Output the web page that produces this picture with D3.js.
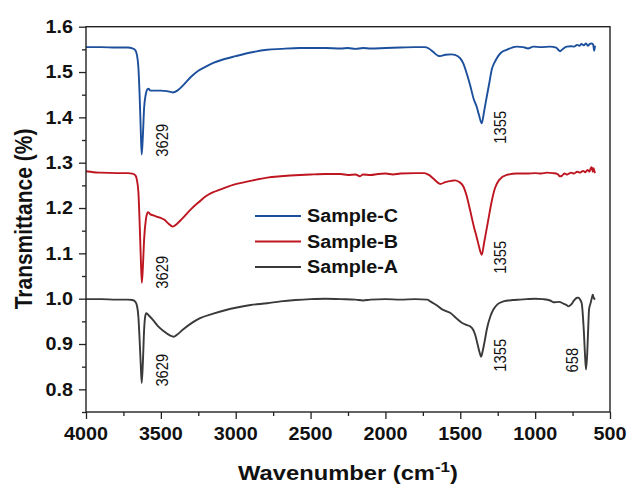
<!DOCTYPE html>
<html><head><meta charset="utf-8">
<script src="https://cdn.jsdelivr.net/npm/d3@7"></script>
<style>body{margin:0;background:#fff}svg{display:block}text{font-family:"Liberation Sans",Arial,sans-serif}</style>
</head><body>
<svg id="c" width="629" height="486"></svg>
<script>
// ---- data (wavenumber cm-1, transmittance) ----
const sampleC = [[4000,1.555],[3900,1.555],[3800,1.554],[3720,1.554],[3690,1.552],[3670,1.548],[3660,1.538],[3650,1.51],[3642,1.45],[3635,1.38],[3628,1.318],[3620,1.36],[3612,1.42],[3600,1.452],[3590,1.462],[3582,1.463],[3570,1.459],[3540,1.459],[3500,1.459],[3460,1.458],[3420,1.455],[3390,1.459],[3350,1.471],[3300,1.489],[3250,1.503],[3200,1.512],[3150,1.520],[3100,1.526],[3000,1.535],[2900,1.543],[2790,1.549],[2700,1.551],[2570,1.553],[2500,1.553],[2400,1.553],[2300,1.552],[2250,1.553],[2200,1.551],[2150,1.553],[2100,1.552],[2000,1.553],[1900,1.554],[1800,1.555],[1740,1.555],[1710,1.552],[1680,1.544],[1650,1.536],[1635,1.535],[1600,1.538],[1560,1.539],[1535,1.538],[1500,1.530],[1480,1.519],[1460,1.50],[1435,1.472],[1410,1.44],[1391,1.424],[1375,1.405],[1357,1.387],[1340,1.415],[1323,1.446],[1305,1.478],[1290,1.505],[1270,1.522],[1257,1.530],[1230,1.542],[1190,1.549],[1123,1.556],[1080,1.555],[1047,1.552],[1030,1.554],[1013,1.556],[960,1.555],[900,1.556],[860,1.554],[845,1.549],[834,1.546],[815,1.551],[789,1.556],[760,1.557],[740,1.556],[720,1.560],[705,1.558],[690,1.562],[675,1.559],[660,1.563],[648,1.558],[635,1.562],[622,1.563],[612,1.560],[606,1.547],[600,1.558]];
const sampleB = [[4000,1.281],[3950,1.279],[3900,1.278],[3800,1.277],[3720,1.277],[3690,1.276],[3670,1.272],[3660,1.262],[3650,1.235],[3642,1.17],[3635,1.10],[3627,1.035],[3620,1.07],[3612,1.13],[3600,1.175],[3590,1.189],[3584,1.191],[3570,1.186],[3550,1.184],[3530,1.181],[3500,1.178],[3476,1.174],[3450,1.166],[3421,1.159],[3390,1.166],[3359,1.176],[3300,1.197],[3243,1.214],[3200,1.226],[3150,1.235],[3110,1.240],[3018,1.251],[2900,1.260],[2790,1.267],[2700,1.270],[2570,1.273],[2500,1.274],[2400,1.275],[2300,1.275],[2250,1.273],[2200,1.274],[2170,1.270],[2150,1.274],[2100,1.273],[2050,1.275],[2000,1.276],[1950,1.274],[1900,1.276],[1800,1.277],[1740,1.277],[1710,1.273],[1680,1.265],[1650,1.256],[1635,1.253],[1600,1.257],[1560,1.260],[1535,1.261],[1510,1.258],[1480,1.248],[1460,1.230],[1435,1.196],[1410,1.160],[1390,1.135],[1375,1.115],[1357,1.097],[1340,1.125],[1313,1.174],[1290,1.215],[1268,1.244],[1240,1.262],[1190,1.273],[1120,1.276],[1056,1.276],[1000,1.277],[960,1.276],[923,1.278],[880,1.277],[850,1.275],[835,1.270],[822,1.271],[805,1.276],[785,1.274],[760,1.278],[740,1.276],[720,1.280],[700,1.278],[680,1.282],[665,1.279],[650,1.284],[638,1.280],[628,1.288],[622,1.290],[615,1.280],[610,1.288],[605,1.282],[600,1.277]];
const sampleA = [[4000,0.999],[3900,0.999],[3800,0.998],[3720,0.998],[3690,0.997],[3670,0.993],[3660,0.985],[3650,0.96],[3642,0.91],[3635,0.86],[3628,0.814],[3620,0.86],[3612,0.93],[3604,0.962],[3597,0.968],[3580,0.963],[3550,0.952],[3521,0.940],[3480,0.928],[3440,0.919],[3415,0.916],[3390,0.921],[3352,0.932],[3300,0.945],[3238,0.957],[3150,0.967],[3065,0.975],[3000,0.980],[2900,0.986],[2790,0.990],[2700,0.994],[2600,0.997],[2500,0.999],[2400,1.000],[2300,0.999],[2200,0.998],[2150,0.996],[2100,0.998],[2000,0.999],[1900,0.998],[1800,0.999],[1720,0.998],[1700,0.994],[1660,0.986],[1624,0.977],[1590,0.972],[1568,0.969],[1530,0.958],[1490,0.947],[1460,0.942],[1435,0.939],[1415,0.932],[1401,0.921],[1385,0.900],[1370,0.880],[1361,0.872],[1350,0.885],[1335,0.910],[1323,0.932],[1300,0.960],[1279,0.976],[1250,0.988],[1212,0.994],[1150,0.997],[1100,0.998],[1056,0.999],[1000,1.000],[950,0.999],[900,0.996],[878,0.992],[840,0.993],[810,0.989],[790,0.986],[778,0.983],[760,0.987],[740,0.996],[720,1.002],[711,1.002],[700,0.998],[689,0.990],[675,0.93],[666,0.87],[660,0.844],[652,0.88],[645,0.94],[640,0.976],[630,0.990],[627,0.994],[620,1.003],[615,1.009],[610,1.003],[605,1.000],[600,0.998]];

const seriesNames = ["Sample-C","Sample-B","Sample-A"];
const seriesColors = ["#1c4f9c","#be1620","#3a3a3a"];
const xTicks = [4000,3500,3000,2500,2000,1500,1000,500];
const xMinorTicks = [3750,3250,2750,2250,1750,1250,750];
const yTicks = [0.8,0.9,1.0,1.1,1.2,1.3,1.4,1.5,1.6];
const yMinorTicks = [0.75,0.85,0.95,1.05,1.15,1.25,1.35,1.45,1.55];
// peak annotations: label text, peak wavenumber, transmittance where label starts
const peakText = ["3629","3629","3629","1355","1355","1355","658"];
const peakWn   = [3629,3629,3629,1355,1355,1355,658];
const peakT    = [1.313,1.022,0.806,1.342,1.055,0.839,0.837];

const SX = 1.13; // horizontal glyph stretch seen in the reference
const svg = d3.select("#c");
const L=86, R=610, T=26.7, B=412;
const x = d3.scaleLinear().domain([4000,500]).range([L,R]);
const y = d3.scaleLinear().domain([0.75,1.6]).range([B,T]);

const line = d3.line().x(d=>x(d[0])).y(d=>y(d[1])).curve(d3.curveMonotoneX);
const data = [sampleC, sampleB, sampleA];
svg.append("g").selectAll("path").data(data).join("path")
  .attr("d", line).attr("fill","none")
  .attr("stroke",(d,i)=>seriesColors[i]).attr("stroke-width",1.9)
  .attr("stroke-linejoin","round");

// axes
const ax = d3.axisBottom(x).tickValues(xTicks).tickSize(7).tickFormat("");
const axm = d3.axisBottom(x).tickValues(xMinorTicks).tickSize(4).tickFormat("");
const ay = d3.axisLeft(y).tickValues(yTicks).tickSize(7).tickFormat("");
const aym = d3.axisLeft(y).tickValues(yMinorTicks).tickSize(4).tickFormat("");
[ [ax,`translate(0,${B})`],[axm,`translate(0,${B})`],[ay,`translate(${L},0)`],[aym,`translate(${L},0)`] ].forEach(([a,t])=>{
  const g = svg.append("g").attr("transform",t).call(a);
  g.selectAll("line").attr("stroke","#222").attr("stroke-width",1.3);
  g.select(".domain").remove();
});
svg.append("rect").attr("x",L).attr("y",T).attr("width",R-L).attr("height",B-T)
  .attr("fill","none").attr("stroke","#222").attr("stroke-width",1.4);

// tick labels
svg.append("g").selectAll("text").data(xTicks).join("text")
  .attr("transform",d=>`translate(${x(d)},${440}) scale(${SX},1)`)
  .attr("text-anchor","middle").attr("font-weight","bold").attr("font-size",17.5)
  .attr("fill","#111").text(d=>d);
svg.append("g").selectAll("text").data(yTicks).join("text")
  .attr("transform",d=>`translate(${73},${y(d)}) scale(${SX},1)`)
  .attr("dy","0.36em").attr("text-anchor","end").attr("font-weight","bold").attr("font-size",17.5)
  .attr("fill","#111").text(d=>d3.format(".1f")(d));

// axis titles
svg.append("text").attr("transform",`translate(32,219) scale(${SX},1) rotate(-90)`)
  .attr("text-anchor","middle").attr("font-weight","bold").attr("font-size",21).attr("fill","#111")
  .text("Transmittance (%)");
const xt = svg.append("text").attr("transform",`translate(348,480) scale(${SX},1)`)
  .attr("text-anchor","middle").attr("font-weight","bold").attr("font-size",21).attr("fill","#111");
xt.append("tspan").text("Wavenumber (cm");
xt.append("tspan").attr("dy",-8).attr("font-size",15).text("-1");
xt.append("tspan").attr("dy",8).text(")");

// peak labels
svg.append("g").selectAll("text").data(peakText).join("text")
  .attr("transform",(d,i)=>{
    const px = x(peakWn[i]) + (peakWn[i] < 1000 ? -8 : (peakWn[i] > 3000 ? 26.5 : 24));
    return `translate(${px},${y(peakT[i])}) scale(${SX},1) rotate(-90)`;
  })
  .attr("font-size",14.8).attr("fill","#111").text(d=>d);

// legend
const lg = svg.append("g");
seriesNames.forEach((n,i)=>{
  const yy = 216 + i*25.5;
  lg.append("line").attr("x1",255).attr("x2",301).attr("y1",yy).attr("y2",yy)
    .attr("stroke",seriesColors[i]).attr("stroke-width",2.2);
  lg.append("text").attr("transform",`translate(307,${yy}) scale(${SX},1)`).attr("dy","0.36em")
    .attr("font-weight","bold").attr("font-size",17.5).attr("fill","#111").text(n);
});
</script>
</body></html>
